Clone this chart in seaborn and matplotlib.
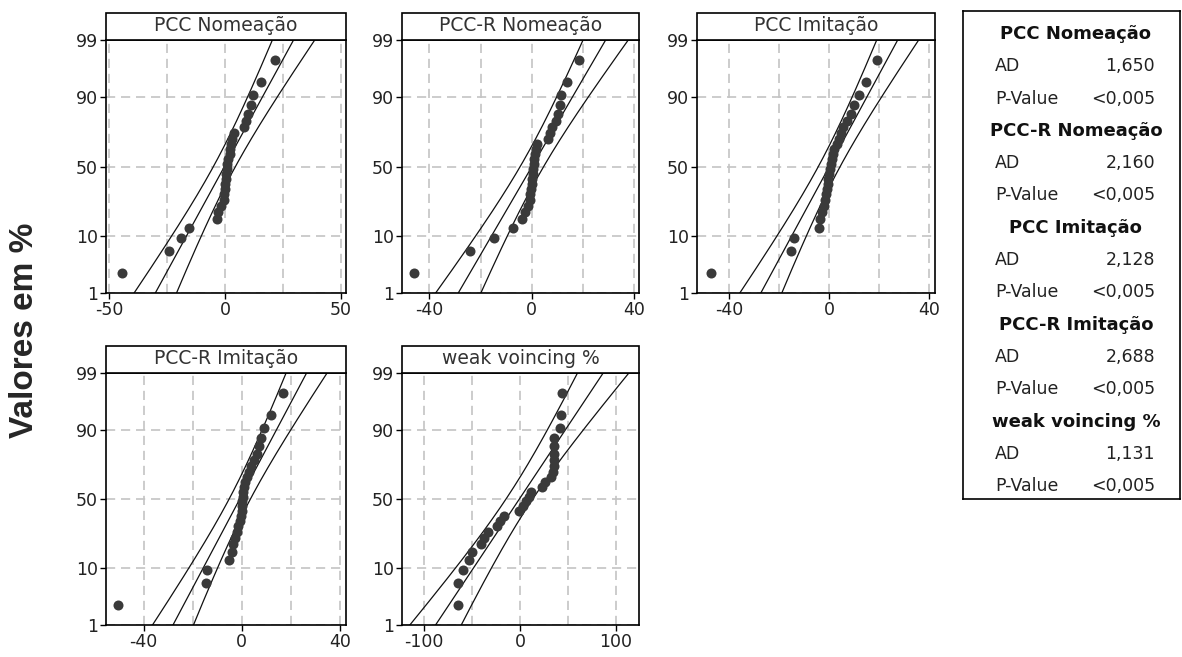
import numpy as np
import pandas as pd
import seaborn as sns
import matplotlib.pyplot as plt
from matplotlib.patches import Rectangle
from statistics import NormalDist

# dados (valores ordenados de cada variável)
names = ['PCC Nomeação', 'PCC-R Nomeação', 'PCC Imitação', 'PCC-R Imitação', 'weak voincing %']

pcc_nom = [-44.4, -24, -19, -15.4, -3.4, -3.2, -1.5, -0.5, -0.3, 0, 0, 0.3, 0.5, 0.8,
           1, 1.5, 2, 2.3, 2.6, 3, 4, 8.3, 9, 10, 11.2, 11.9, 15.5, 21.5]
pccr_nom = [-46, -24, -14.7, -7.4, -3.9, -2.6, -1.3, -0.8, -0.5, -0.3, 0, 0, 0.3, 0.5,
            0.8, 1, 1.3, 1.6, 2, 6.5, 7.1, 7.8, 9.5, 10.4, 11, 11.3, 13.9, 18.6]
pcc_imi = [-47.2, -15.4, -14.3, -4, -3.7, -3, -2.1, -1.7, -1.4, -1, -0.7, -0.4, 0, 0.3,
           0.6, 1, 1.5, 2, 3, 4, 4.5, 5.5, 7, 8.5, 10, 12, 14.8, 19]
pccr_imi = [-50.3, -14.7, -14, -5.1, -4.1, -3.4, -2.7, -2, -1.4, -0.7, -0.4, 0, 0, 0.3,
            0.5, 0.7, 1, 1.5, 2, 3, 4, 5, 6.2, 7, 8, 9.2, 11.9, 16.8]
weak_voi = [-65, -64.4, -59.8, -53, -50, -41, -38, -33, -24, -21, -17, -1, 3, 6,
            9, 11, 23, 26, 32, 34, 35, 35, 35, 35, 35.5, 42, 42.5, 44]

ad_values = ['1,650', '2,160', '2,128', '2,688', '1,131']
p_values = ['<0,005', '<0,005', '<0,005', '<0,005', '<0,005']

prob_ticks = [1, 10, 50, 90, 99]

series = [pcc_nom, pccr_nom, pcc_imi, pccr_imi, weak_voi]

# layout (fração da figura) e eixos x
W, H = 1182, 657
boxes = [(106, 40, 346, 293), (402, 40, 639, 293), (697, 40, 935, 293),
         (106, 373, 346, 625), (402, 373, 639, 625)]
xlims = [(-51.3, 52.2), (-50.7, 41.9), (-53, 42.3), (-55.4, 42.6), (-123, 124)]
xmajor = [[-50, 0, 50], [-40, 0, 40], [-40, 0, 40], [-40, 0, 40], [-100, 0, 100]]
xminor = [[-25, 25], [-20, 20], [-20, 20], [-20, 20], [-50, 50]]

sns.set_theme(style="white")
plt.rcParams['font.family'] = ['DejaVu Sans']
plt.rcParams['axes.unicode_minus'] = False

nd = NormalDist()
zlo, zhi = nd.inv_cdf(0.01), nd.inv_cdf(0.99)

fig = plt.figure(figsize=(W / 100, H / 100), dpi=100)
grid_kw = dict(color='#c4c4c4', lw=1.2, ls=(0, (5.5, 3.5)))

for i, (name, vals) in enumerate(zip(names, series)):
    l, t, r, b = boxes[i]
    ax = fig.add_axes([l / W, 1 - b / H, (r - l) / W, (b - t) / H])

    vals = np.sort(np.array(vals, dtype=float))
    n = len(vals)
    pr = (np.arange(1, n + 1) - 0.3) / (n + 0.4)
    z = np.array([nd.inv_cdf(p) for p in pr])
    df = pd.DataFrame({'valor': vals, 'z': z})

    mu, sd = vals.mean(), vals.std(ddof=1)
    zz = np.linspace(zlo - 0.1, zhi + 0.1, 200)
    fit = mu + zz * sd
    half = 1.96 * sd * np.sqrt((1 + zz ** 2 / 2) / n)
    for xs in (fit - half, fit, fit + half):
        ax.plot(xs, zz, color='#111111', lw=0.9, zorder=2)

    sns.scatterplot(data=df, x='valor', y='z', ax=ax, s=52, color='#3a3a3a',
                    linewidth=0, zorder=3)

    ax.set_xlim(*xlims[i])
    ax.set_ylim(zlo, zhi)
    ax.set_xticks(xmajor[i])
    ax.set_xticks(xminor[i], minor=True)
    ax.set_yticks([nd.inv_cdf(p / 100) for p in prob_ticks])
    ax.set_yticklabels([str(p) for p in prob_ticks])
    ax.set_xlabel('')
    ax.set_ylabel('')
    ax.grid(True, which='both', axis='x', **grid_kw)
    ax.grid(True, which='major', axis='y', **grid_kw)
    ax.set_axisbelow(True)
    ax.tick_params(which='major', direction='out', length=4, width=1, color='black',
                   labelsize=12.5, labelcolor='#222222', pad=2, left=True, bottom=True)
    ax.tick_params(which='minor', length=0)
    for sp in ax.spines.values():
        sp.set_color('black')
        sp.set_linewidth(1.2)

    # faixa do título
    hh = 27 / (b - t)
    ax.add_patch(Rectangle((0, 1), 1, hh, transform=ax.transAxes, clip_on=False,
                           facecolor='white', edgecolor='black', lw=1.2, zorder=5))
    ax.text(0.5, 1 + hh / 2 + 0.002, name, transform=ax.transAxes, ha='center',
            va='center', fontsize=13.5, color='#333333', zorder=6)

# caixa com estatísticas
lax = fig.add_axes([963 / W, 1 - 499 / H, 217 / W, 488 / H])
lax.set_xticks([])
lax.set_yticks([])
for sp in lax.spines.values():
    sp.set_color('black')
    sp.set_linewidth(1.2)

row = 0
for name, ad, pv in zip(names, ad_values, p_values):
    ys = [(499 - (34 + (row + k) * 32.3)) / 488 for k in range(3)]
    lax.text(0.52, ys[0], name, ha='center', va='center', fontsize=13,
             fontweight='bold', color='#111111')
    lax.text(0.147, ys[1], 'AD', ha='left', va='center', fontsize=12.5, color='#222222')
    lax.text(0.885, ys[1], ad, ha='right', va='center', fontsize=12.5, color='#222222')
    lax.text(0.147, ys[2], 'P-Value', ha='left', va='center', fontsize=12.5, color='#222222')
    lax.text(0.885, ys[2], pv, ha='right', va='center', fontsize=12.5, color='#222222')
    row += 3

fig.text(25 / W, 1 - 330 / H, 'Valores em %', rotation=90, ha='center', va='center',
         fontsize=24, fontweight='bold', family=['Liberation Sans', 'DejaVu Sans'])

fig.savefig('out.png', dpi=100)
